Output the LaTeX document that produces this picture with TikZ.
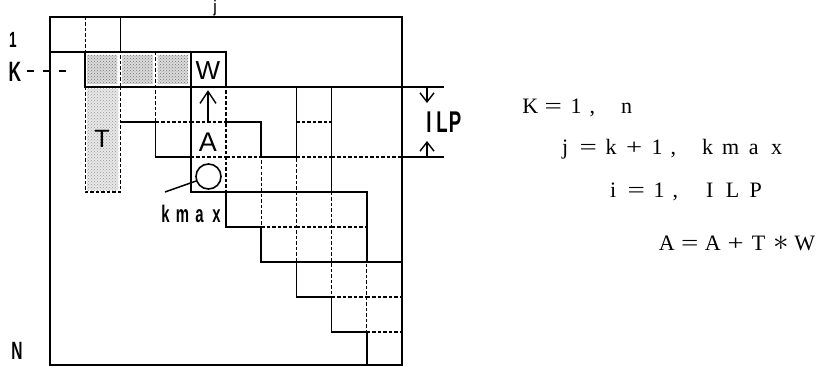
\documentclass[tikz,border=0pt]{standalone}
\usepackage{fontspec}
\usepackage{graphicx}
\setmainfont{Liberation Serif}
\newfontfamily\labsfont{Liberation Sans}
\usetikzlibrary{arrows.meta,patterns}
\newcommand{\cbx}[1]{\makebox[23pt][c]{#1}}
\newcommand{\cma}{\hspace{2pt},\hspace{20pt}}
\newcommand{\weq}{\scalebox{1.4}[1]{=}}
\newcommand{\wpl}{\scalebox{1.3}[1]{+}}
\newcommand{\wst}{\scalebox{1.5}{$\ast$}}
\newcommand{\nar}[1]{\scalebox{0.62}[1]{#1}}
\begin{document}
\begin{tikzpicture}[x=1pt,y=-1pt,
  declare function={gx(\c)=50+35.2*\c; gy(\r)=17+35*\r-2*(\r>9.5);},
  solidl/.style={line width=1.7pt, line cap=rect},
  dashl/.style={line width=1.3pt, dash pattern=on 3.5pt off 2pt},
  stip/.style={fill=gray!28, draw=none},
  stipdots/.style={pattern=crosshatch dots, pattern color=black!55, draw=none},
  labs/.style={inner sep=0pt, font=\labsfont\fontsize{#1}{#1}\selectfont},
  labn/.style={inner sep=0pt, font=\labsfont\bfseries\fontsize{#1}{#1}\selectfont},
  eqn/.style={inner sep=0pt, anchor=base west, font=\fontsize{22}{22}\selectfont},
  bigbarb/.style={-{Straight Barb[length=12pt, width=16pt]}, line width=1.4pt},
  smallbarb/.style={-{Straight Barb[length=9pt, width=14pt]}, line width=1.4pt}
]
\fill[white] (0,0) rectangle (818,366);
\useasboundingbox (0,0) rectangle (818,366);

% stippled cells
\foreach \c in {1,2,3}{
  \fill[stip] ({gx(\c)+2},{gy(1)+3}) rectangle ({gx(\c+1)-3},{gy(2)-3});
  \fill[stipdots] ({gx(\c)+2},{gy(1)+3}) rectangle ({gx(\c+1)-3},{gy(2)-3});
}
\fill[stip, fill=gray!18] ({gx(1)+2},{gy(2)+2}) rectangle ({gx(2)-2},{gy(5)-2});
\fill[stipdots, pattern color=black!40] ({gx(1)+2},{gy(2)+2}) rectangle ({gx(2)-2},{gy(5)-2});

% dashed inner grid of the skyline profile
\foreach \j/\f in {0/0,1/0,2/1,3/1,4/1,5/3,6/4,7/2,8/5,9/7}{
  \pgfmathtruncatemacro\jp{\j+1}
  \foreach \r in {\f,...,\jp}{
    \draw[dashl] ({gx(\j)},{gy(\r)}) -- ({gx(\j+1)},{gy(\r)});
  }
}
\foreach \j/\t/\b in {1/0/2,2/0/2,3/1/4,4/1/5,5/1/6,6/3/7,7/2/8,8/2/9,9/5/10}{
  \draw[dashl] ({gx(\j)},{gy(\t)}) -- ({gx(\j)},{gy(\b)});
}
% T column box
\draw[dashl] ({gx(1)},{gy(2)}) rectangle ({gx(2)},{gy(5)});

% solid outlines
\draw[solidl] ({gx(0)},{gy(0)}) rectangle ({gx(10)},{gy(10)});
\draw[solidl] ({gx(2)},{gy(0)}) -- ({gx(2)},{gy(1)});
\draw[solidl] ({gx(0)},{gy(1)}) -- ({gx(5)},{gy(1)});
\draw[solidl] ({gx(1)},{gy(1)}) -- ({gx(1)},{gy(2)});
\draw[solidl] ({gx(1)},{gy(2)}) -- (443,{gy(2)});
\draw[solidl] ({gx(2)},{gy(3)}) -- ({gx(3)},{gy(3)}) -- ({gx(3)},{gy(4)}) -- ({gx(4)},{gy(4)});
\draw[dashl] ({gx(8)},{gy(4)}) -- ({gx(10)},{gy(4)});
\draw[solidl] ({gx(10)},{gy(4)}) -- (443,{gy(4)});
\draw[solidl] ({gx(4)},{gy(1)}) -- ({gx(4)},{gy(5)}) -- ({gx(9)},{gy(5)});
\draw[solidl] ({gx(5)},{gy(1)}) -- ({gx(5)},{gy(2)});
\draw[solidl] ({gx(5)},{gy(3)}) -- ({gx(6)},{gy(3)}) -- ({gx(6)},{gy(4)}) -- ({gx(7)},{gy(4)}) -- ({gx(7)},{gy(2)});
\draw[solidl] ({gx(8)},{gy(2)}) -- ({gx(8)},{gy(5)});
\draw[solidl] ({gx(9)},{gy(5)}) -- ({gx(9)},{gy(7)});
\draw[solidl] ({gx(6)},{gy(7)}) -- ({gx(10)},{gy(7)});
\draw[solidl] ({gx(5)},{gy(5)}) -- ({gx(5)},{gy(6)}) -- ({gx(6)},{gy(6)}) -- ({gx(6)},{gy(7)})
  -- ({gx(7)},{gy(7)}) -- ({gx(7)},{gy(8)}) -- ({gx(8)},{gy(8)}) -- ({gx(8)},{gy(9)})
  -- ({gx(9)},{gy(9)}) -- ({gx(9)},{gy(10)});

% labels
\node[labn=22] (one) at (13,40) {\nar{1}};
\node[labn=28] (K) at (15,72) {\nar{K}};
\node[labn=25] (N) at (17,351) {\nar{N}};
\node[labn=17, anchor=base] (jl) at (215,13) {\nar{j}};
\coordinate (kdend) at (74,71);
\draw[line width=1.6pt, dash pattern=on 7pt off 9pt] ([xshift=6pt,yshift=1pt]K.east) -- (kdend);

\node[labs=25] (T) at (102,139) {T};
\node[labs=26] (W) at (208,71) {W};
\node[labs=27] (A) at (208,142.5) {A};
\node[circle, draw, line width=1.6pt, minimum size=25pt, inner sep=0pt] (circ) at (208.5,176.5) {};
\draw[bigbarb, shorten <=11pt, shorten >=10pt] (A.north) -- (W.south);

\node[labn=24, anchor=base] (kmx) at (191,222)
  {\makebox[17pt]{\nar{k}}\makebox[17pt]{\nar{m}}\makebox[17pt]{\nar{a}}\makebox[17pt]{\nar{x}}};
\coordinate (kmxlead) at (165,192);
\draw[line width=1.5pt] (kmxlead) -- (circ.200);

% ILP bracket
\node[labn=30] (ilp) at (442,122.5) {\makebox[13pt]{\nar{I}}\makebox[13pt]{\nar{L}}\makebox[13pt]{\nar{P}}};
\coordinate (ilpt) at (427,{gy(2)});
\coordinate (ilptend) at (427,103);
\coordinate (ilpb) at (427,{gy(4)});
\coordinate (ilpbend) at (427,141);
\draw[smallbarb] (ilpt) -- (ilptend);
\draw[smallbarb] (ilpb) -- (ilpbend);

% loop text
\node[eqn] (l1) at (518.5,114) {\cbx{K}\cbx{\weq}\cbx{1}\cma\cbx{n}};
\node[eqn] (l2) at (553.5,155) {\cbx{j}\cbx{\weq}\cbx{k}\cbx{\wpl}\cbx{1}\cma\cbx{k}\cbx{m}\cbx{a}\cbx{x}};
\node[eqn] (l3) at (601.5,197) {\cbx{i}\cbx{\weq}\cbx{1}\cma\cbx{I}\cbx{L}\cbx{P}};
\node[eqn] (l4) at (655,250) {\cbx{A}\cbx{\weq}\cbx{A}\cbx{\wpl}\cbx{T}\cbx{\wst}\cbx{W}};
\end{tikzpicture}
\end{document}
